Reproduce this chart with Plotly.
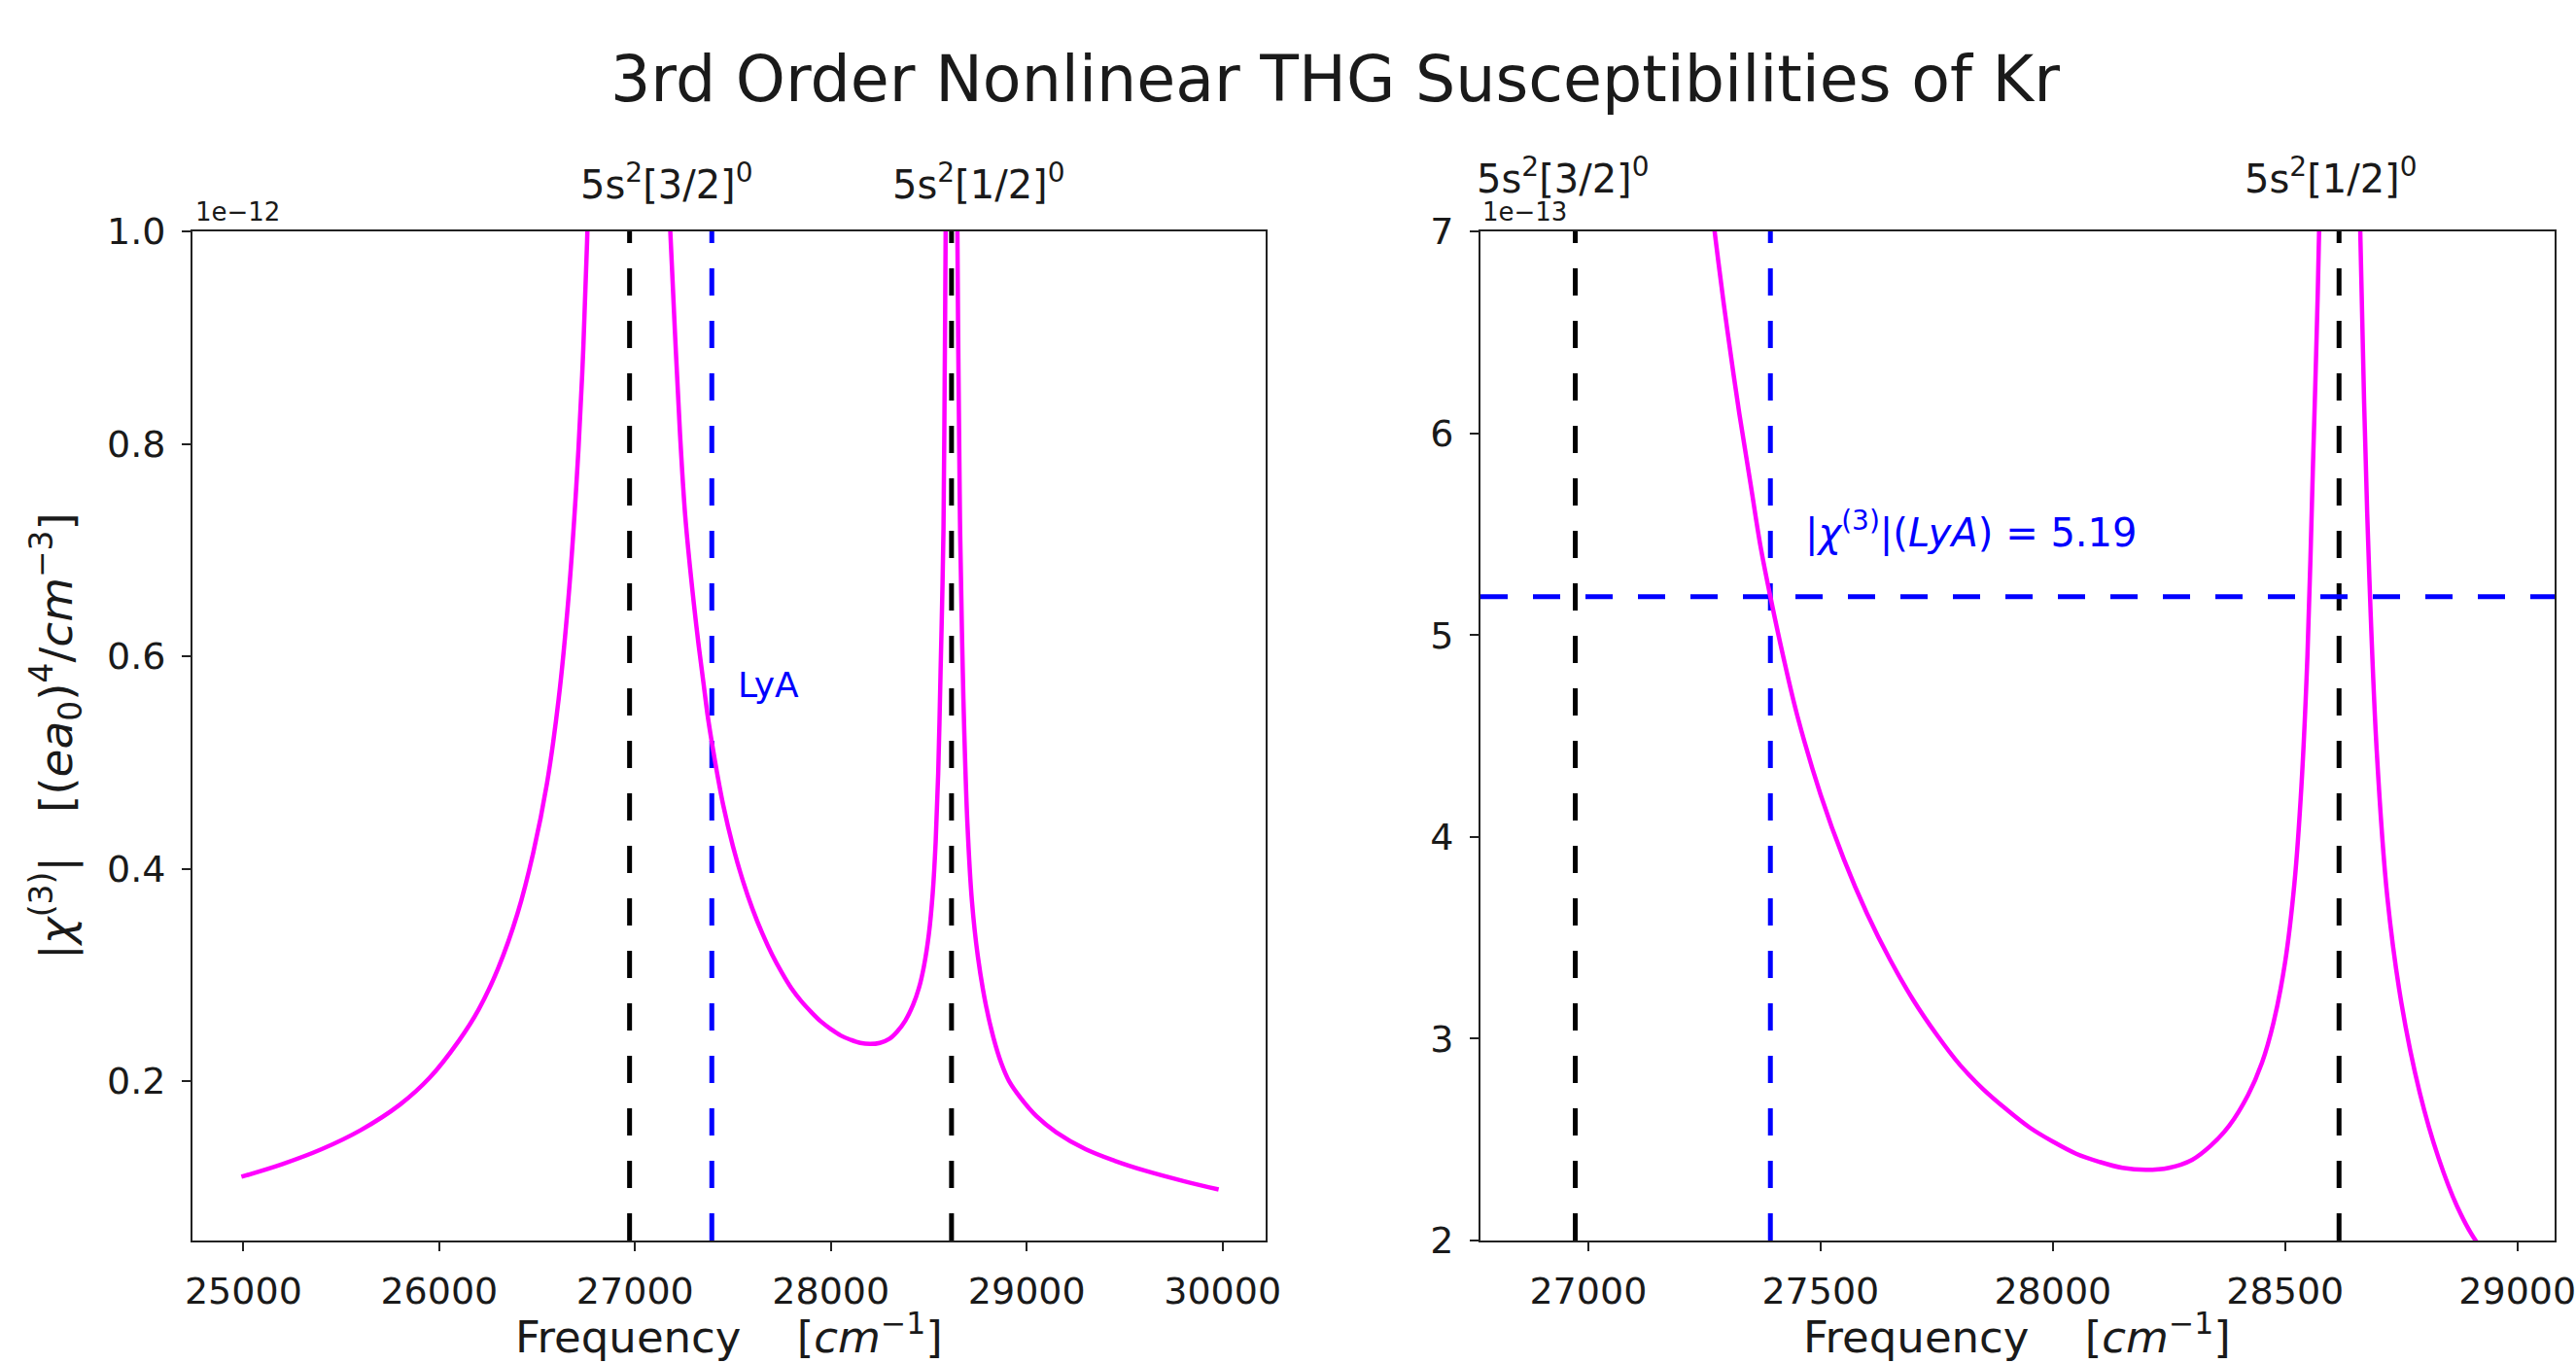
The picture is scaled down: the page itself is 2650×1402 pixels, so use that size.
import plotly.graph_objects as go

# ---------------- data ----------------
# fundamental frequency [cm^-1]
freq = [24990, 25200, 25400, 25600, 25800, 25950, 26100, 26200, 26300, 26400,
        26480, 26550, 26610, 26660, 26700, 26730, 26755, 26790, 26840,
        27100, 27150, 27180, 27205, 27230, 27255, 27280, 27300, 27325, 27350,
        27370, 27392, 27420, 27450, 27500, 27550, 27600, 27650, 27700, 27750,
        27800, 27850, 27900, 27950, 28000, 28050, 28100, 28150, 28200, 28250,
        28300, 28340, 28380, 28420, 28450, 28475, 28500, 28520, 28535, 28548,
        28560, 28568, 28575, 28581, 28586, 28595,
        28638, 28646, 28652, 28659, 28670, 28681, 28697, 28720, 28750, 28790,
        28830, 28870, 28910, 28970, 29050, 29150, 29300, 29450, 29600, 29800,
        29980]
# |chi(3)| in units of 1e-12 (ea0)^4/cm^-3
chi = [0.110, 0.122, 0.136, 0.154, 0.178, 0.203, 0.238, 0.267, 0.306, 0.358,
       0.415, 0.480, 0.560, 0.655, 0.760, 0.865, 0.990, 1.220, 1.750,
       1.750, 1.120, 1.000, 0.900, 0.808, 0.735, 0.685, 0.650, 0.610, 0.574,
       0.545, 0.519, 0.489, 0.460, 0.421, 0.389, 0.362, 0.339, 0.319, 0.302,
       0.287, 0.275, 0.265, 0.256, 0.249, 0.243, 0.239, 0.236, 0.235, 0.236,
       0.240, 0.247, 0.257, 0.272, 0.288, 0.308, 0.338, 0.377, 0.425, 0.490,
       0.585, 0.650, 0.720, 0.860, 1.000, 1.600,
       1.600, 1.000, 0.860, 0.730, 0.615, 0.530, 0.443, 0.370, 0.318, 0.273,
       0.241, 0.217, 0.200, 0.184, 0.167, 0.152, 0.136, 0.125, 0.116, 0.106,
       0.098]

transitions = [26972, 28616]
transition_labels = ["5s<sup>2</sup>[3/2]<sup>0</sup>", "5s<sup>2</sup>[1/2]<sup>0</sup>"]
lya = 27392
chi_lya = 5.19  # in 1e-13

left_xticks = [25000, 26000, 27000, 28000, 29000, 30000]
left_yticks = [0.2, 0.4, 0.6, 0.8, 1.0]
right_xticks = [27000, 27500, 28000, 28500, 29000]
right_yticks = [2, 3, 4, 5, 6, 7]

# ---------------- layout helpers ----------------
W, H = 2650, 1402
FONT = "DejaVu Sans"
TXT = "#1a1a1a"


def px(p):  # window pixel -> paper fraction
    return p / W


def py(p):
    return 1 - p / H


MAGENTA = "#ff00ff"
BLUE = "#0000ff"
DASH = "28px,26px"

line_style = dict(color=MAGENTA, width=4.5, shape="spline", smoothing=1.0)
fig = go.Figure()
fig.add_trace(go.Scatter(x=freq, y=chi, xaxis="x", yaxis="y", mode="lines",
                         line=line_style, showlegend=False, hoverinfo="skip"))
fig.add_trace(go.Scatter(x=freq, y=[v * 10 for v in chi], xaxis="x2", yaxis="y2",
                         mode="lines", line=line_style,
                         showlegend=False, hoverinfo="skip"))

shapes = []
for xa, ya in (("x", "y"), ("x2", "y2")):
    for t in transitions:
        shapes.append(dict(type="line", xref=xa, yref=ya + " domain", x0=t, x1=t,
                           y0=0, y1=1, layer="below",
                           line=dict(color="black", width=5, dash=DASH)))
    shapes.append(dict(type="line", xref=xa, yref=ya + " domain", x0=lya, x1=lya,
                       y0=0, y1=1, layer="below",
                       line=dict(color=BLUE, width=5, dash=DASH)))
shapes.append(dict(type="line", xref="x2 domain", yref="y2", x0=0, x1=1,
                   y0=chi_lya, y1=chi_lya, layer="below",
                   line=dict(color=BLUE, width=5, dash=DASH)))

axis_common = dict(showgrid=False, zeroline=False, showline=True, linecolor="#222",
                   linewidth=2, mirror=True, ticks="outside", ticklen=9, tickwidth=2,
                   tickcolor="#222", automargin=False, ticklabeloverflow="allow",
                   tickfont=dict(family=FONT, size=38, color=TXT))

ydom = [py(1276), py(238)]
fig.update_layout(
    width=W, height=H, autosize=False,
    margin=dict(l=0, r=0, t=0, b=0, pad=0, autoexpand=False),
    paper_bgcolor="white", plot_bgcolor="white",
    font=dict(family=FONT, color=TXT),
    showlegend=False,
    xaxis=dict(domain=[px(198), px(1302)], range=[24740, 30220], anchor="y",
               tickvals=left_xticks, ticktext=[str(v) for v in left_xticks],
               ticklabelstandoff=8, **axis_common),
    yaxis=dict(domain=ydom, range=[0.05, 1.0], anchor="x",
               tickvals=left_yticks, ticktext=[f"{v:.1f}" for v in left_yticks],
               ticklabelstandoff=9, **axis_common),
    xaxis2=dict(domain=[px(1523), px(2628)], range=[26768, 29080], anchor="y2",
                tickvals=right_xticks, ticktext=[str(v) for v in right_xticks],
                ticklabelstandoff=8, **axis_common),
    yaxis2=dict(domain=ydom, range=[2, 7], anchor="x2",
                tickvals=right_yticks, ticktext=[str(v) for v in right_yticks],
                ticklabelstandoff=9, **axis_common),
    shapes=shapes,
)

ann = []


def add(text, x, y, size, color=TXT, xanchor="left", yanchor="middle", angle=0):
    ann.append(dict(text=text, x=x, y=y, xref="paper", yref="paper",
                    xanchor=xanchor, yanchor=yanchor, showarrow=False,
                    textangle=angle, font=dict(family=FONT, size=size, color=color)))


add("3rd Order Nonlinear THG Susceptibilities of Kr", px(1373), py(81), 65, xanchor="center")
add("1e\u221212", px(199), py(218), 26)
add("1e\u221213", px(1523), py(218), 26)
# transition labels
add(transition_labels[0], px(595), py(187), 40)
add(transition_labels[1], px(916), py(187), 40)
add(transition_labels[0], px(1517), py(181), 40)
add(transition_labels[1], px(2307), py(181), 40)
# LyA labels
add("LyA", px(757), py(705), 36, color=BLUE)
add("|<i>\u03c7</i><sup>(3)</sup>|(<i>LyA</i>) = " + f"{chi_lya:.2f}", px(1855), py(546), 40, color=BLUE)
# axis titles
xt = "Frequency\u00a0\u00a0\u00a0\u00a0[<i>cm</i><sup>\u22121</sup>]"
add(xt, px(750), py(1372), 45, xanchor="center")
add(xt, px(2075), py(1372), 45, xanchor="center")
yt = ("|<i>\u03c7</i><sup>(3)</sup>|\u00a0\u00a0\u00a0[(<i>ea</i><sub>0</sub>)<sup>4</sup>/"
      "<i>cm</i><sup>\u22123</sup>]")
add(yt, px(57), py(757), 47, xanchor="center", angle=-90)

fig.update_layout(annotations=ann)
fig.write_html("out.html",
               config={"displayModeBar": False, "staticPlot": True},
               post_script="document.body.style.margin='0';"
                           "document.body.style.overflow='hidden';")
